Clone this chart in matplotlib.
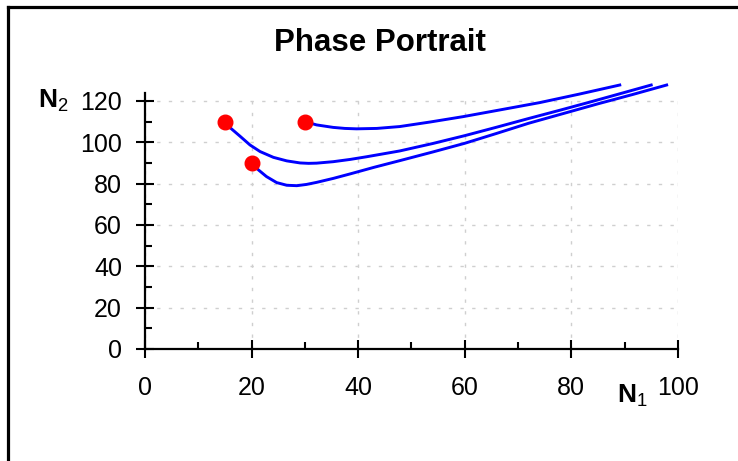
import matplotlib.pyplot as plt
from matplotlib.lines import Line2D
from matplotlib.ticker import MultipleLocator

plt.rcParams['font.family'] = ['Liberation Sans', 'DejaVu Sans']
plt.rcParams['mathtext.fontset'] = 'custom'
plt.rcParams['mathtext.rm'] = 'Liberation Sans'
plt.rcParams['mathtext.bf'] = 'Liberation Sans:bold'

# trajectories (N1, N2) for three starting populations
n1_a = [15, 15.9, 17.8, 19.7, 21.6, 24.1, 26.6, 29.1, 30.7, 32.2, 35.3, 38.5, 41.6,
        47.8, 54, 60, 66, 72, 78, 84, 95]
n2_a = [110, 107.2, 103.0, 98.7, 95.5, 92.7, 91.0, 90.0, 89.8, 89.9, 90.6, 91.7, 93.0,
        95.8, 99.4, 103.2, 107.3, 111.5, 115.6, 119.8, 127.7]

n1_b = [30, 32.2, 35.3, 37.5, 39.7, 43.5, 47.8, 53.5, 59.7, 66.5, 74.1, 81.5, 89.1]
n2_b = [110, 108.4, 107.2, 106.7, 106.5, 106.7, 107.6, 109.8, 112.4, 115.6, 119.2, 123.3, 127.7]

n1_c = [20, 21.3, 22.8, 24.7, 26.6, 28.5, 30.3, 32.2, 35.3, 38.5, 43, 47.8, 54, 60, 66,
        72, 78.5, 85, 91.5, 97.9]
n2_c = [90, 86.6, 83.4, 80.5, 79.2, 79.0, 79.6, 80.6, 82.5, 84.7, 87.9, 91.1, 95.3, 99.5,
        104.3, 109.2, 113.9, 118.6, 123.1, 127.7]

start_n1 = [15, 30, 20]
start_n2 = [110, 110, 90]

xticks = [0, 20, 40, 60, 80, 100]
yticks = [0, 20, 40, 60, 80, 100, 120]

fig = plt.figure(figsize=(7.38, 4.61), dpi=100)
ax = fig.add_axes([0.1965, 0.243, 0.722, 0.556])

for xs, ys in [(n1_a, n2_a), (n1_b, n2_b), (n1_c, n2_c)]:
    ax.plot(xs, ys, color='#0000ff', lw=2.1, clip_on=False, zorder=3,
            solid_joinstyle='round')
ax.plot(start_n1, start_n2, 'o', color='#ff0000', ms=10.5, clip_on=False, zorder=4)

ax.set_xlim(0, 100)
ax.set_ylim(0, 124)
ax.set_xticks(xticks)
ax.set_yticks(yticks)
ax.xaxis.set_minor_locator(MultipleLocator(10))
ax.yaxis.set_minor_locator(MultipleLocator(10))
ax.tick_params(which='major', direction='inout', length=13, width=1.5,
               labelsize=18, pad=10)
ax.tick_params(axis='x', which='major', pad=13)
ax.tick_params(which='minor', direction='in', length=5, width=1.5)

for s in ['top', 'right']:
    ax.spines[s].set_visible(False)
for s in ['left', 'bottom']:
    ax.spines[s].set_linewidth(1.6)

ax.grid(True, which='major', color='#cfcfcf', lw=1, linestyle=(0, (2.4, 6)))
ax.set_axisbelow(True)

fig.text(380 / 738, 1 - 43 / 461, 'Phase Portrait', ha='center', va='center',
         fontsize=22.5, fontweight='bold')
fig.text(53 / 738, 1 - 101 / 461, r'$\mathbf{N}_{\mathrm{2}}$', ha='center',
         va='center', fontsize=19)
fig.text(632 / 738, 1 - 396 / 461, r'$\mathbf{N}_{\mathrm{1}}$', ha='center',
         va='center', fontsize=19)

# frame around the panel (left and top edges)
fig.add_artist(Line2D([8 / 738, 8 / 738], [0, 1 - 7.5 / 461], color='black',
                      lw=2.3, transform=fig.transFigure))
fig.add_artist(Line2D([8 / 738, 1], [1 - 7.5 / 461, 1 - 7.5 / 461], color='black',
                      lw=2.3, transform=fig.transFigure))

fig.savefig('out.png', dpi=100)
